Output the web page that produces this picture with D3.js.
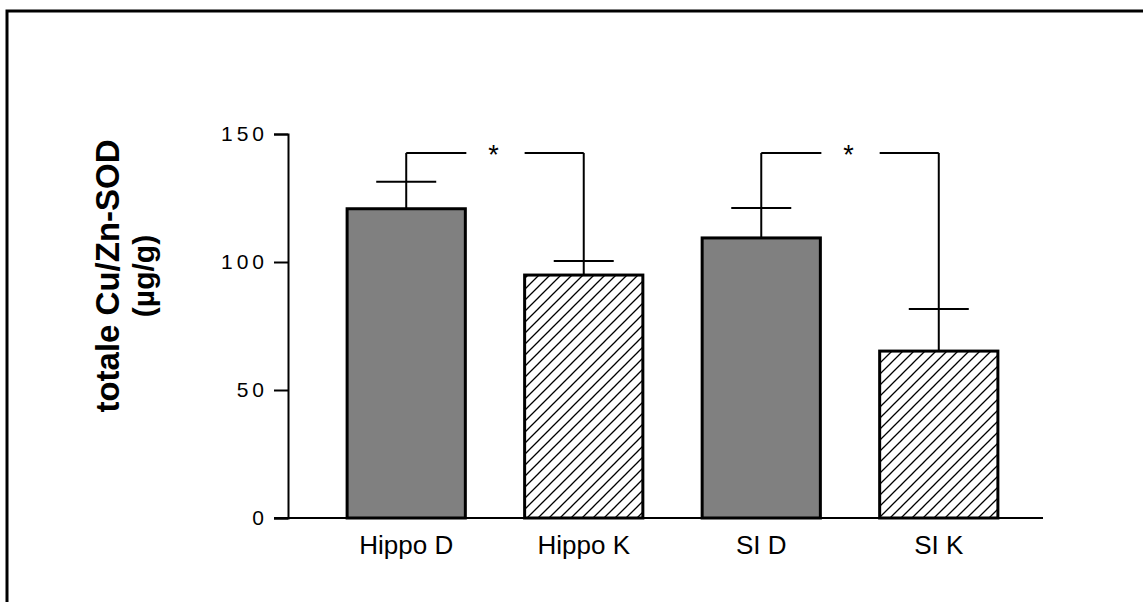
<!DOCTYPE html>
<html>
<head>
<meta charset="utf-8">
<script src="https://cdn.jsdelivr.net/npm/d3@7"></script>
<style>
  body { margin: 0; background: #fff; }
  text { font-family: "Liberation Sans", Arial, sans-serif; }
</style>
</head>
<body>
<div id="vis"></div>
<script>
// data
const groups = ["Hippo D", "Hippo K", "SI D", "SI K"];
const means = [120.8, 94.9, 109.4, 65.2];
const sems = [10.5, 5.5, 11.7, 16.4];
const filled = [true, false, true, false];
const yTicks = [0, 50, 100, 150];
// significance brackets: pairs of group indexes and level
const sigPairs = [[0, 1], [2, 3]];
const sigLevel = 142.6;

const WIDTH = 1143;
const HEIGHT = 602;
const SVG = d3.select("#vis").append("svg").attr("width", WIDTH).attr("height", HEIGHT);

const AX_LEFT = 288, AX_BOTTOM = 518, AX_TOP = 134;

// frame (only left and top edges are visible)
SVG.append("path")
    .attr("d", `M7,${HEIGHT} V11 H${WIDTH}`)
    .attr("fill", "none")
    .attr("stroke", "black")
    .attr("stroke-width", 3);

// hatch pattern
const defs = SVG.append("defs");
const pat = defs.append("pattern")
    .attr("id", "hatch")
    .attr("patternUnits", "userSpaceOnUse")
    .attr("width", 11).attr("height", 11);
pat.append("rect").attr("width", 11).attr("height", 11).attr("fill", "white");
pat.append("path")
    .attr("d", "M0,11 L11,0 M-3,3 L3,-3 M8,14 L14,8")
    .attr("stroke", "black")
    .attr("stroke-width", 1.3);

let y = d3.scaleLinear().domain([0, 150]).range([AX_BOTTOM, AX_TOP]);
let x = d3.scaleBand()
    .domain(groups)
    .range([AX_LEFT, 1057])
    .paddingInner(0.334)
    .paddingOuter(0.333);

// bars
SVG.append("g").attr("id", "barsG")
    .selectAll("rect")
    .data(groups)
    .join("rect")
    .attr("x", d => x(d))
    .attr("y", (d, i) => y(means[i]))
    .attr("width", x.bandwidth())
    .attr("height", (d, i) => AX_BOTTOM - y(means[i]))
    .attr("fill", (d, i) => filled[i] ? "#808080" : "url(#hatch)")
    .attr("stroke", "black")
    .attr("stroke-width", 3);

const cx = d => x(d) + x.bandwidth() / 2;
const capHalf = 30;

// error bars (upper only) - stems go up to the bracket
const errG = SVG.append("g").attr("id", "errG").attr("stroke", "black").attr("stroke-width", 2);
groups.forEach((g, i) => {
    errG.append("line")
        .attr("x1", cx(g)).attr("x2", cx(g))
        .attr("y1", y(means[i])).attr("y2", y(sigLevel));
    errG.append("line")
        .attr("x1", cx(g) - capHalf).attr("x2", cx(g) + capHalf)
        .attr("y1", y(means[i] + sems[i])).attr("y2", y(means[i] + sems[i]));
});

// significance brackets
sigPairs.forEach(([a, b]) => {
    const ga = groups[a], gb = groups[b];
    const leftEnd = x(ga) + x.bandwidth() + 1;
    const rightStart = x(gb);
    errG.append("line")
        .attr("x1", cx(ga)).attr("x2", leftEnd)
        .attr("y1", y(sigLevel)).attr("y2", y(sigLevel));
    errG.append("line")
        .attr("x1", rightStart).attr("x2", cx(gb))
        .attr("y1", y(sigLevel)).attr("y2", y(sigLevel));
    SVG.append("text")
        .attr("x", (leftEnd + rightStart) / 2 - 2)
        .attr("y", y(sigLevel) + 11)
        .attr("text-anchor", "middle")
        .attr("font-size", 27)
        .text("*");
});

// y axis
let ejeY = d3.axisLeft(y).tickValues(yTicks).tickSizeOuter(0).tickSize(14).tickPadding(10);
SVG.append("g")
    .attr("id", "ejeY")
    .attr("transform", `translate(${AX_LEFT},0)`)
    .call(ejeY);
SVG.select("#ejeY").select(".domain").attr("stroke-width", 2);
SVG.select("#ejeY").selectAll("line").attr("stroke-width", 2);
SVG.select("#ejeY").selectAll("text")
    .attr("font-size", 21)
    .attr("letter-spacing", 4)
    .attr("dx", 4)
    .attr("font-family", "'Liberation Sans', Arial, sans-serif")
    .attr("fill", "black");

// x axis line and labels
SVG.append("line")
    .attr("x1", AX_LEFT - 14).attr("x2", 1043)
    .attr("y1", AX_BOTTOM).attr("y2", AX_BOTTOM)
    .attr("stroke", "black").attr("stroke-width", 2);
SVG.append("g").attr("id", "ejeX")
    .selectAll("text")
    .data(groups)
    .join("text")
    .attr("x", d => cx(d))
    .attr("y", 554)
    .attr("text-anchor", "middle")
    .attr("font-size", 26)
    .text(d => d);

// y label
const yl = SVG.append("text")
    .attr("transform", "translate(119,276) rotate(-90)")
    .attr("text-anchor", "middle")
    .attr("font-weight", "bold");
yl.append("tspan").attr("x", 0).attr("y", 0).attr("font-size", 33).text("totale Cu/Zn-SOD");
yl.append("tspan").attr("x", 0).attr("y", 35).attr("font-size", 30).text("(µg/g)");
</script>
</body>
</html>
